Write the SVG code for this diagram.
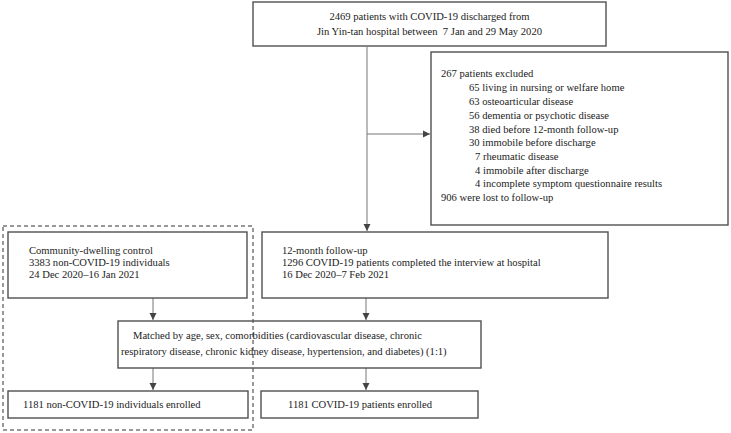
<svg xmlns="http://www.w3.org/2000/svg" width="731" height="433" viewBox="0 0 731 433">
<style>
.box{fill:none;stroke:#505050;stroke-width:1.4}
.ln{fill:none;stroke:#777;stroke-width:1}
text{font-family:"Liberation Serif","Times New Roman",serif;font-size:10.6px;fill:#222}
</style>
<defs>
<marker id="ah" markerWidth="8" markerHeight="8" refX="7" refY="4" orient="auto" markerUnits="userSpaceOnUse">
<path d="M0,0.5 L7,4 L0,7.5 Z" fill="#444"/>
</marker>
</defs>
<rect width="731" height="433" fill="#fff"/>
<g id="connectors">
<line class="ln" x1="367" y1="47" x2="367" y2="231" marker-end="url(#ah)"/>
<line class="ln" x1="367" y1="134" x2="430" y2="134" marker-end="url(#ah)"/>
<line class="ln" x1="153" y1="298" x2="153" y2="320" marker-end="url(#ah)"/>
<line class="ln" x1="366" y1="298" x2="366" y2="320" marker-end="url(#ah)"/>
<line class="ln" x1="153" y1="368" x2="153" y2="390" marker-end="url(#ah)"/>
<line class="ln" x1="366" y1="368" x2="366" y2="390" marker-end="url(#ah)"/>
</g>
<g id="discharged">
<rect class="box" x="253" y="2" width="353" height="44"/>
<text x="429.5" y="20" text-anchor="middle">2469 patients with COVID-19 discharged from</text>
<text x="429.5" y="35" text-anchor="middle" xml:space="preserve">Jin Yin-tan hospital between  7 Jan and 29 May 2020</text>
</g>
<g id="excluded">
<rect class="box" x="431" y="52" width="297" height="173"/>
<text x="441" y="77">267 patients excluded</text>
<text x="469" y="91">65 living in nursing or welfare home</text>
<text x="469" y="105">63 osteoarticular disease</text>
<text x="469" y="119">56 dementia or psychotic disease</text>
<text x="469" y="132.5">38 died before 12-month follow-up</text>
<text x="469" y="146">30 immobile before discharge</text>
<text x="475" y="160">7 rheumatic disease</text>
<text x="475" y="173.5">4 immobile after discharge</text>
<text x="475" y="187">4 incomplete symptom questionnaire results</text>
<text x="441" y="201">906 were lost to follow-up</text>
</g>
<g id="control-group">
<rect x="3" y="226" width="250" height="204" fill="none" stroke="#333" stroke-width="1" stroke-dasharray="4 3"/>
</g>
<g id="control">
<rect class="box" x="8" y="232" width="239" height="66"/>
<text x="29" y="254">Community-dwelling control</text>
<text x="29" y="266">3383 non-COVID-19 individuals</text>
<text x="29" y="277.5">24 Dec 2020–16 Jan 2021</text>
</g>
<g id="followup">
<rect class="box" x="262" y="232" width="346" height="66"/>
<text x="282" y="254">12-month follow-up</text>
<text x="282" y="266">1296 COVID-19 patients completed the interview at hospital</text>
<text x="282" y="277.5">16 Dec 2020–7 Feb 2021</text>
</g>
<g id="matched">
<rect class="box" x="118" y="321" width="363" height="47"/>
<text x="133" y="339">Matched by age, sex, comorbidities (cardiovascular disease, chronic</text>
<text x="121" y="355">respiratory disease, chronic kidney disease, hypertension, and diabetes) (1:1)</text>
</g>
<g id="enrolled-control">
<rect class="box" x="8" y="391" width="240" height="27"/>
<text x="23" y="408">1181 non-COVID-19 individuals enrolled</text>
</g>
<g id="enrolled-covid">
<rect class="box" x="261" y="391" width="217" height="27"/>
<text x="288" y="408">1181 COVID-19 patients enrolled</text>
</g>
</svg>
